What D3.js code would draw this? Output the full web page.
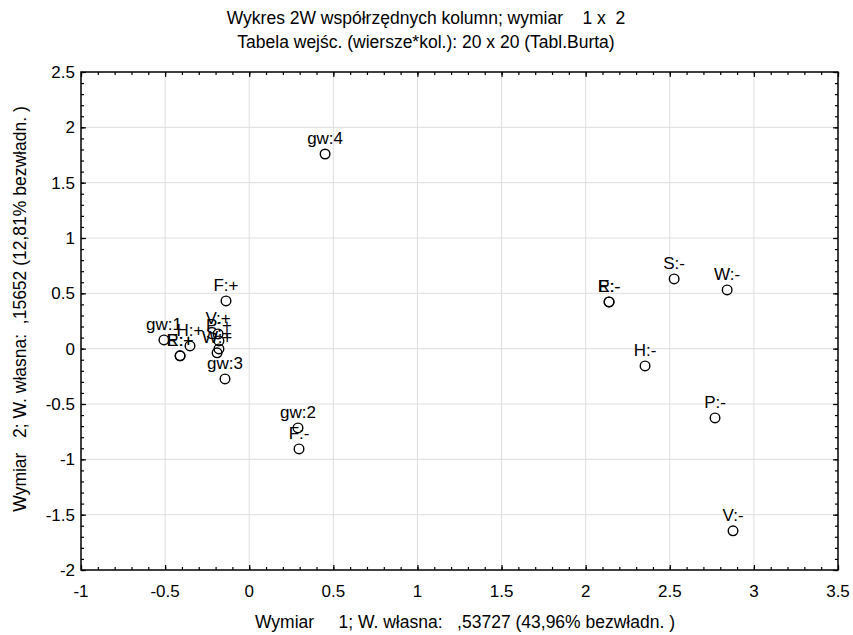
<!DOCTYPE html>
<html>
<head>
<meta charset="utf-8">
<script src="https://cdn.jsdelivr.net/npm/d3@7"></script>
<style>
  body { margin: 0; background: #fff; }
  svg text { font-family: "Liberation Sans", Arial, sans-serif; fill: #000; }
</style>
</head>
<body>
<div id="chart"></div>
<script>
// column labels and coordinates (dimension 1 x dimension 2)
const labels = ['gw:1', 'gw:2', 'gw:3', 'gw:4',
  'H:+', 'R:+', 'E:+', 'F:+', 'V:+', 'P:+', 'S:+', 'W:+',
  'H:-', 'R:-', 'E:-', 'F:-', 'V:-', 'P:-', 'S:-', 'W:-'];
const dim1 = [-0.507, 0.290, -0.144, 0.451,
  -0.352, -0.411, -0.411, -0.138, -0.185, -0.180, -0.180, -0.191,
  2.353, 2.139, 2.139, 0.296, 2.876, 2.769, 2.526, 2.841];
const dim2 = [0.079, -0.716, -0.273, 1.759,
  0.025, -0.065, -0.065, 0.431, 0.133, 0.070, -0.002, -0.038,
  -0.156, 0.422, 0.422, -0.906, -1.646, -0.626, 0.630, 0.531];

const xTicks = [-1, -0.5, 0, 0.5, 1, 1.5, 2, 2.5, 3, 3.5];
const yTicks = [-2, -1.5, -1, -0.5, 0, 0.5, 1, 1.5, 2, 2.5];

const titleLines = ['Wykres 2W współrzędnych kolumn; wymiar\u00a0\u00a0\u00a0 1 x\u00a0 2',
  'Tabela wejśc. (wiersze*kol.): 20 x 20 (Tabl.Burta)'];
const xTitle = 'Wymiar\u00a0\u00a0\u00a0\u00a0 1; W. własna:\u00a0\u00a0 ,53727 (43,96% bezwładn. )';
const yTitle = 'Wymiar\u00a0\u00a0 2; W. własna:\u00a0 ,15652 (12,81% bezwładn. )';

const width = 853, height = 635;
const margin = {top: 72, right: 15, bottom: 65, left: 81};
const w = width - margin.left - margin.right;
const h = height - margin.top - margin.bottom;

const svg = d3.select('#chart').append('svg')
    .attr('width', width)
    .attr('height', height);

const xScale = d3.scaleLinear().domain([-1, 3.5]).range([0, w]);
const yScale = d3.scaleLinear().domain([-2, 2.5]).range([h, 0]);

const chart = svg.append('g')
    .attr('transform', `translate(${margin.left},${margin.top})`);

// gridlines
chart.append('g').selectAll('line')
    .data(xTicks.slice(1, -1))
    .join('line')
    .attr('x1', d => xScale(d)).attr('x2', d => xScale(d))
    .attr('y1', 0).attr('y2', h)
    .attr('stroke', '#dedede').attr('stroke-width', 1);
chart.append('g').selectAll('line')
    .data(yTicks.slice(1, -1))
    .join('line')
    .attr('y1', d => yScale(d)).attr('y2', d => yScale(d))
    .attr('x1', 0).attr('x2', w)
    .attr('stroke', '#dedede').attr('stroke-width', 1);

// axes with inward ticks (minor every 0.1)
const minorX = d3.range(-10, 36).map(d => d / 10);
const minorY = d3.range(-20, 26).map(d => d / 10);

function drawAxis(axis, ticks, size) {
  return g => {
    g.call(axis.tickValues(ticks).tickSize(size).tickFormat(''));
    g.select('.domain').remove();
    g.selectAll('.tick line').attr('stroke', '#000').attr('stroke-width', 1.2);
  };
}

chart.append('g').attr('transform', `translate(0,${h})`)
    .call(drawAxis(d3.axisBottom(xScale), minorX, -3));
chart.append('g').attr('transform', `translate(0,${h})`)
    .call(drawAxis(d3.axisBottom(xScale), xTicks, -5));
chart.append('g')
    .call(drawAxis(d3.axisTop(xScale), minorX, -3));
chart.append('g')
    .call(drawAxis(d3.axisTop(xScale), xTicks, -5));
chart.append('g')
    .call(drawAxis(d3.axisLeft(yScale), minorY, -3));
chart.append('g')
    .call(drawAxis(d3.axisLeft(yScale), yTicks, -5));
chart.append('g').attr('transform', `translate(${w},0)`)
    .call(drawAxis(d3.axisRight(yScale), minorY, -3));
chart.append('g').attr('transform', `translate(${w},0)`)
    .call(drawAxis(d3.axisRight(yScale), yTicks, -5));

// tick labels
chart.append('g').selectAll('text')
    .data(xTicks)
    .join('text')
    .attr('x', d => xScale(d))
    .attr('y', h + 27)
    .attr('text-anchor', 'middle')
    .style('font-size', '17px')
    .text(d => d);
chart.append('g').selectAll('text')
    .data(yTicks)
    .join('text')
    .attr('x', -6)
    .attr('y', d => yScale(d) + 6)
    .attr('text-anchor', 'end')
    .style('font-size', '17px')
    .text(d => d);

// frame
chart.append('rect')
    .attr('width', w).attr('height', h)
    .attr('fill', 'none')
    .attr('stroke', '#000')
    .attr('stroke-width', 1.5);

// points
const pts = labels.map((l, i) => ({label: l, x: dim1[i], y: dim2[i]}));

chart.append('g').selectAll('circle')
    .data(pts)
    .join('circle')
    .attr('cx', d => xScale(d.x))
    .attr('cy', d => yScale(d.y))
    .attr('r', 4.8)
    .attr('fill', 'none')
    .attr('stroke', '#000')
    .attr('stroke-width', 1.4);

chart.append('g').selectAll('text')
    .data(pts)
    .join('text')
    .attr('x', d => xScale(d.x))
    .attr('y', d => yScale(d.y) - 10)
    .attr('text-anchor', 'middle')
    .style('font-size', '17px')
    .text(d => d.label);

// titles
svg.append('g').selectAll('text')
    .data(titleLines)
    .join('text')
    .attr('x', 426)
    .attr('y', (d, i) => 24 + i * 24)
    .attr('text-anchor', 'middle')
    .style('font-size', '17.5px')
    .text(d => d);

svg.append('text')
    .attr('x', 465)
    .attr('y', 628)
    .attr('text-anchor', 'middle')
    .style('font-size', '17.5px')
    .text(xTitle);

svg.append('text')
    .attr('transform', 'rotate(-90)')
    .attr('x', -309)
    .attr('y', 26)
    .attr('text-anchor', 'middle')
    .style('font-size', '17.5px')
    .text(yTitle);
</script>
</body>
</html>
